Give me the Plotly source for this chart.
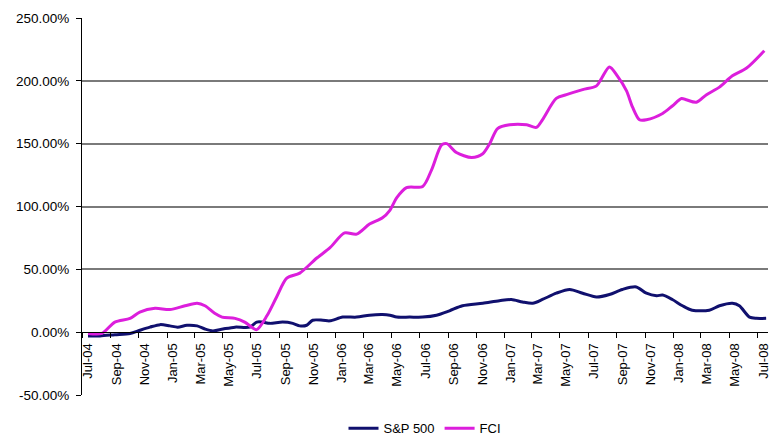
import plotly.graph_objects as go

# ---- data (percent returns) ----
sp_dates = ["2004-07-14", "2004-08-09", "2004-09-10", "2004-10-13", "2004-11-03", "2004-11-25",
            "2004-12-17", "2005-01-07", "2005-01-24", "2005-02-13", "2005-03-07", "2005-03-24",
            "2005-04-10", "2005-05-02", "2005-05-28", "2005-06-29", "2005-07-14", "2005-07-27",
            "2005-08-11", "2005-09-08", "2005-09-30", "2005-10-15", "2005-10-30", "2005-11-12",
            "2005-12-04", "2005-12-19", "2006-01-16", "2006-02-15", "2006-03-15", "2006-04-12",
            "2006-04-28", "2006-05-13", "2006-06-10", "2006-07-08", "2006-08-07", "2006-09-04",
            "2006-10-02", "2006-11-15", "2006-12-21", "2007-01-16", "2007-02-09", "2007-03-03",
            "2007-03-24", "2007-04-23", "2007-05-22", "2007-06-19", "2007-07-19", "2007-08-16",
            "2007-09-13", "2007-10-13", "2007-11-04", "2007-11-26", "2007-12-09", "2007-12-30",
            "2008-01-21", "2008-02-11", "2008-03-19", "2008-04-10", "2008-05-08", "2008-05-23",
            "2008-06-14", "2008-06-29", "2008-07-20"]
sp_values = [-3, -3, -2, -1, 1.5, 4,
             6, 5, 4, 5.5, 5, 2.5,
             1, 2.5, 4, 4, 8, 8,
             7, 8, 7, 5, 5.5, 9.5,
             9.5, 9, 12, 12, 13.5, 14,
             13.5, 12, 12, 12, 13.5, 17,
             21, 23, 25, 26, 24, 23,
             26, 31, 34, 31, 28, 30,
             34, 36, 31, 29, 29.5, 26,
             21, 17.5, 17.5, 21, 23, 21,
             12, 11, 11]

fci_dates = ["2004-07-14", "2004-08-13", "2004-09-10", "2004-10-13", "2004-11-03", "2004-12-06",
             "2005-01-07", "2005-02-09", "2005-03-07", "2005-03-24", "2005-04-14", "2005-04-30",
             "2005-05-28", "2005-06-18", "2005-07-03", "2005-07-14", "2005-08-05", "2005-08-26",
             "2005-09-17", "2005-10-15", "2005-11-21", "2005-12-19", "2006-01-20", "2006-02-15",
             "2006-03-15", "2006-04-12", "2006-04-28", "2006-05-13", "2006-06-03", "2006-07-08",
             "2006-07-27", "2006-08-18", "2006-08-29", "2006-09-19", "2006-10-22", "2006-11-15",
             "2006-11-30", "2006-12-17", "2007-01-12", "2007-02-18", "2007-03-11", "2007-03-24",
             "2007-04-23", "2007-05-15", "2007-06-19", "2007-07-19", "2007-07-30", "2007-08-16",
             "2007-09-02", "2007-09-22", "2007-10-05", "2007-10-20", "2007-11-04", "2007-12-09",
             "2007-12-30", "2008-01-19", "2008-01-29", "2008-02-20", "2008-03-13", "2008-04-10",
             "2008-05-08", "2008-06-07", "2008-07-16"]
fci_values = [-1, -1, 8, 11, 16, 19,
              18, 21, 23, 21, 15, 12,
              11, 8, 4, 2, 13, 28,
              43, 47, 59, 67, 79, 78,
              86, 91, 97, 107, 115, 116,
              129, 149, 150, 143, 139, 142,
              150, 162, 165, 165, 163, 169,
              186, 189, 193, 196, 202, 211,
              204, 192, 179, 169, 169, 174,
              180, 186, 185, 183, 189, 195,
              204, 210, 224]

y_tickvals = [-50, 0, 50, 100, 150, 200, 250]
y_ticktext = ["-50.00%", "0.00%", "50.00%", "100.00%", "150.00%", "200.00%", "250.00%"]
grid_vals = [50, 100, 150, 200]

FONT = "Liberation Sans, Arial, sans-serif"

fig = go.Figure()
fig.add_trace(go.Scatter(x=sp_dates, y=sp_values, name="S&P 500", mode="lines",
                         line=dict(color="#10106E", width=3, shape="spline", smoothing=0.8)))
fig.add_trace(go.Scatter(x=fci_dates, y=fci_values, name="FCI", mode="lines",
                         line=dict(color="#DC1EDC", width=3, shape="spline", smoothing=0.8)))
# invisible helper on overlay axis for gridlines
fig.add_trace(go.Scatter(x=[sp_dates[0]], y=[0], yaxis="y2", mode="markers",
                         marker=dict(opacity=0), showlegend=False, hoverinfo="skip"))

y0_pos = (0 - y_tickvals[0]) / (y_tickvals[-1] - y_tickvals[0])

fig.update_layout(
    width=769, height=436,
    margin=dict(l=82, r=1, t=18, b=41, autoexpand=False),
    paper_bgcolor="white", plot_bgcolor="white",
    font=dict(family=FONT, size=13, color="black"),
    showlegend=True,
    legend=dict(orientation="h", x=0.5, xanchor="center", y=-0.088, yanchor="middle",
                font=dict(size=13), itemwidth=30, tracegroupgap=0),
    xaxis=dict(type="date", range=["2004-07-01", "2008-07-24"],
               tick0="2004-07-01", dtick="M2", tickformat="%b-%y", tickangle=-90,
               ticks="outside", ticklen=5, tickcolor="black", tickwidth=1,
               showline=True, linecolor="black", linewidth=1,
               showgrid=False, zeroline=False, automargin=False,
               anchor="free", position=y0_pos, ticklabelshift=6,
               ticklabeloverflow="allow",
               tickfont=dict(size=13)),
    yaxis=dict(range=[-50, 250], tickvals=y_tickvals, ticktext=y_ticktext,
               ticks="outside", ticklen=5, tickcolor="black",
               showline=True, linecolor="black", linewidth=1,
               showgrid=False, zeroline=False, ticklabelstandoff=4, automargin=False,
               tickfont=dict(size=13.5)),
    yaxis2=dict(range=[-50, 250], overlaying="y", tickvals=grid_vals,
                showgrid=True, gridcolor="#7A7A7A", gridwidth=2, automargin=False,
                showticklabels=False, ticks="", zeroline=False, showline=False),
)

fig.write_html("out.html", config={"displayModeBar": False},
               post_script="document.body.style.margin='0';document.body.style.overflow='hidden';")
